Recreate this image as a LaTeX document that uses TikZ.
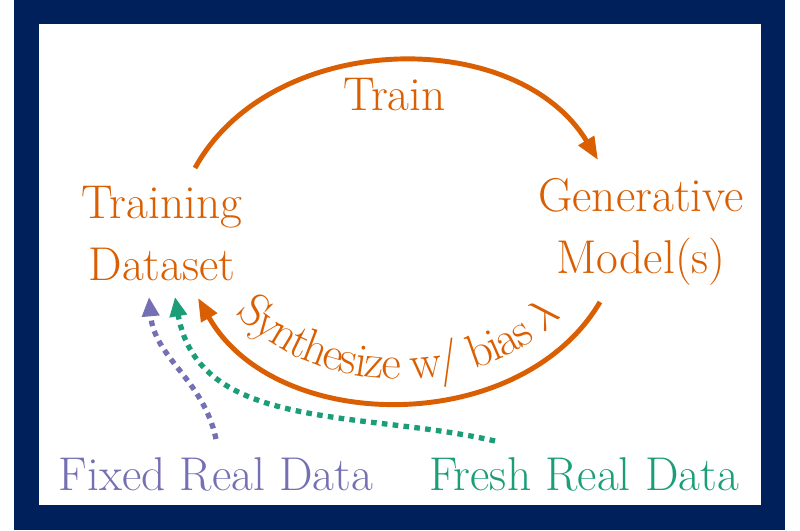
\documentclass[tikz,border=0pt]{standalone}
\usepackage{tikz}
\usetikzlibrary{arrows.meta, decorations.text}
\definecolor{navy}{HTML}{00205B}
\definecolor{loopc}{HTML}{D95F02}
\definecolor{fixedc}{HTML}{7570B3}
\definecolor{freshc}{HTML}{1B9E77}

\begin{document}
\begin{tikzpicture}[
  x=0.02cm, y=0.02cm,
  lbl/.style={inner sep=0pt, align=center,
              font=\fontsize{27}{35.3}\selectfont},
  loopar/.style={-{Triangle[length=13pt,width=10pt]}, line width=2.8pt, loopc},
  realar/.style={-{Triangle[length=11pt,width=9.5pt]}, line width=3pt,
                 dash pattern=on 3.2pt off 3pt},
]
  \useasboundingbox (0,0) rectangle (800,-530);
  \fill[navy] (14,0) rectangle (785,-530);
  \fill[white] (39,-24) rectangle (761,-505);

  \node[lbl, text=loopc] (data) at (162,-234) {Training\\Dataset};
  \node[lbl, text=loopc] (model) at (641,-232) {Generative\\Model(s)};
  \node[lbl, text=fixedc, anchor=base] (fixed) at (216,-490) {Fixed Real Data};
  \node[lbl, text=freshc, anchor=base] (fresh) at (584,-490) {Fresh Real Data};

  \draw[loopar] ([shift={(33,66)}]data.center) to[bend left=60]
    node[lbl, below=0.28cm] {Train} ([shift={(-43,72)}]model.center);
  \draw[loopar] ([shift={(-41,-70)}]model.center) to[bend left=60]
    ([shift={(36,-64)}]data.center);
  \path[decorate, decoration={text along path, text color=loopc,
      text align=center, raise=13pt,
      text={|\fontsize{27}{35}\selectfont|Synthesize w/ bias {$\lambda$}}}]
    ([shift={(36,-64)}]data.center) to[bend right=60]
    ([shift={(-41,-70)}]model.center);

  \draw[realar, fixedc] ([shift={(0,51)}]fixed.base) to[out=102,in=-85]
    ([shift={(-13,-63)}]data.center);
  \draw[realar, freshc] ([shift={(-89,49)}]fresh.base) to[out=167,in=-80]
    ([shift={(13,-63)}]data.center);
\end{tikzpicture}
\end{document}
